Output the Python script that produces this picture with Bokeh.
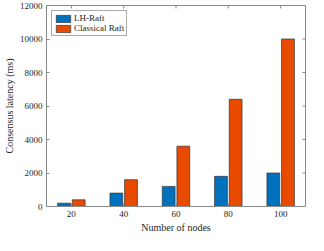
import math
from bokeh.plotting import figure
from bokeh.models import ColumnDataSource, Range1d, FixedTicker, Legend, LegendItem
from bokeh.transform import dodge
from bokeh.embed import file_html
from bokeh.resources import INLINE

nodes = [20, 40, 60, 80, 100]
lh_raft = [200, 800, 1200, 1800, 2000]
classical_raft = [400, 1600, 3600, 6400, 10000]
y_ticks = [0, 2000, 4000, 6000, 8000, 10000, 12000]

X_MIN, X_MAX = 10.5, 109.5
Y_MIN, Y_MAX = 0, 12000

src = ColumnDataSource(dict(nodes=nodes, lh=lh_raft, cl=classical_raft))

FONT = "Liberation Serif"
AXC = "#8a8a8a"
TXT = "#262626"

p = figure(width=308, height=235, output_backend="svg", toolbar_location=None,
           x_range=Range1d(X_MIN, X_MAX), y_range=Range1d(Y_MIN, Y_MAX),
           min_border_left=0, min_border_right=3, min_border_top=5, min_border_bottom=0)
p.outline_line_color = AXC
p.outline_line_width = 1
p.grid.visible = False
p.background_fill_color = "white"
p.border_fill_color = "white"

r1 = p.vbar(x=dodge("nodes", -2.8), top="lh", width=4.9, source=src,
            fill_color="#0072BD", line_color="#333333", line_width=0.7)
r2 = p.vbar(x=dodge("nodes", 2.8), top="cl", width=4.9, source=src,
            fill_color="#E84A00", line_color="#333333", line_width=0.7)

# inward ticks on the top and right edges of the box (MATLAB style)
p.scatter(x=nodes, y=[Y_MAX] * len(nodes), marker="dash", angle=math.pi / 2,
          size=6, line_color=AXC, line_width=1)
p.scatter(x=[X_MAX] * len(y_ticks), y=y_ticks, marker="dash",
          size=6, line_color=AXC, line_width=1)

for ax in p.xaxis:
    ax.ticker = FixedTicker(ticks=nodes)
    ax.axis_label = "Number of nodes"
for ax in p.yaxis:
    ax.ticker = FixedTicker(ticks=y_ticks)
    ax.axis_label = "Consensus latency (ms)"

for ax in list(p.xaxis) + list(p.yaxis):
    ax.major_tick_in = 3
    ax.major_tick_out = 0
    ax.minor_tick_line_color = None
    ax.axis_line_color = AXC
    ax.major_tick_line_color = AXC
    ax.major_label_text_font = FONT
    ax.major_label_text_font_size = "9px"
    ax.major_label_text_color = TXT
    ax.axis_label_text_font = FONT
    ax.axis_label_text_font_size = "10px"
    ax.axis_label_text_font_style = "normal"
    ax.axis_label_text_color = TXT
    ax.axis_label_standoff = 2
    ax.major_label_standoff = 4

legend = Legend(items=[LegendItem(label="LH-Raft", renderers=[r1]),
                       LegendItem(label="Classical Raft", renderers=[r2])],
                location="top_left")
legend.label_text_font = FONT
legend.label_text_font_size = "9px"
legend.label_text_color = TXT
legend.border_line_color = "#555555"
legend.border_line_width = 0.8
legend.padding = 2
legend.spacing = 0
legend.margin = 5
legend.glyph_width = 18
legend.glyph_height = 9
legend.label_height = 9
legend.label_standoff = 2
legend.label_text_line_height = 1.0
p.add_layout(legend)

open("out.html", "w").write(file_html(p, INLINE))
